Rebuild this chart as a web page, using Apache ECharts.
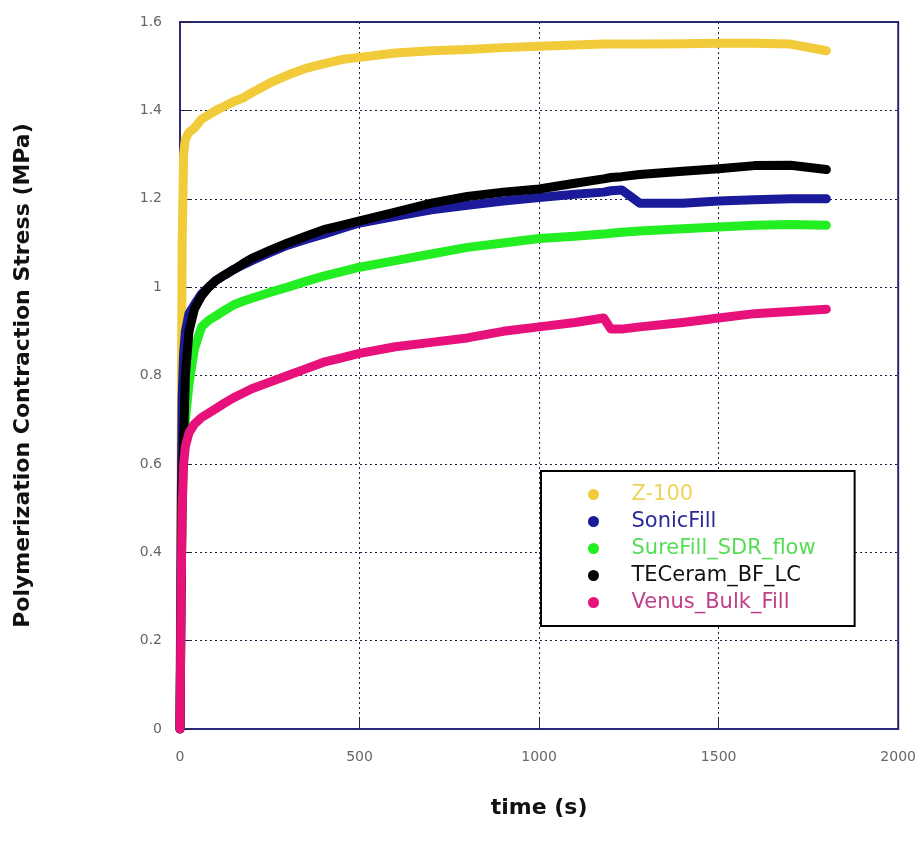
<!DOCTYPE html>
<html>
<head>
<meta charset="utf-8">
<script src="https://cdn.jsdelivr.net/npm/echarts@6/dist/echarts.min.js"></script>
<style>
  html, body { margin: 0; padding: 0; background: #fff; }
  #chart { width: 919px; height: 852px; }
</style>
</head>
<body>
<div id="chart"></div>
<script>
// 数据
const seriesNames = ['Z-100', 'SonicFill', 'SureFill_SDR_flow', 'TECeram_BF_LC', 'Venus_Bulk_Fill'];
const seriesColors = ['#f2cb3a', '#1a1a9a', '#22ee22', '#000000', '#e8107a'];
const legendTextColors = ['#f0d45a', '#2a2a9a', '#55dd55', '#111111', '#c0408a'];

const timeS = [0, 3, 6, 10, 15, 25, 40, 60, 80, 100, 125, 150, 175, 200, 250, 300, 350, 400, 450, 500, 600, 700, 800, 900, 1000, 1100, 1180, 1200, 1230, 1280, 1400, 1500, 1600, 1700, 1800];

const z100 =      [0, 0.6, 1.1, 1.3, 1.335, 1.35, 1.36, 1.38, 1.39, 1.4, 1.41, 1.42, 1.428, 1.44, 1.462, 1.48, 1.495, 1.505, 1.515, 1.52, 1.53, 1.535, 1.538, 1.542, 1.545, 1.548, 1.55, 1.55, 1.55, 1.55, 1.551, 1.552, 1.552, 1.55, 1.535];
const sonicFill = [0, 0.45, 0.75, 0.85, 0.9, 0.94, 0.96, 0.985, 1.0, 1.015, 1.028, 1.04, 1.05, 1.06, 1.078, 1.095, 1.108, 1.12, 1.133, 1.145, 1.16, 1.175, 1.185, 1.195, 1.203, 1.21, 1.215, 1.218, 1.22, 1.19, 1.19, 1.195, 1.198, 1.2, 1.2];
const sureFill =  [0, 0.3, 0.5, 0.62, 0.7, 0.78, 0.86, 0.91, 0.925, 0.935, 0.948, 0.96, 0.968, 0.975, 0.988, 1.0, 1.013, 1.025, 1.035, 1.045, 1.06, 1.075, 1.09, 1.1, 1.11, 1.115, 1.12, 1.122, 1.124, 1.127, 1.132, 1.136, 1.14, 1.142, 1.14];
const teceram =   [0, 0.3, 0.55, 0.65, 0.8, 0.9, 0.95, 0.98, 1.0, 1.015, 1.028, 1.04, 1.053, 1.065, 1.083, 1.1, 1.115, 1.13, 1.14, 1.15, 1.17, 1.19, 1.205, 1.215, 1.222, 1.235, 1.245, 1.248, 1.25, 1.255, 1.262, 1.268, 1.275, 1.276, 1.266];
const venus =     [0, 0.3, 0.5, 0.6, 0.64, 0.67, 0.69, 0.705, 0.715, 0.725, 0.738, 0.75, 0.76, 0.77, 0.785, 0.8, 0.815, 0.83, 0.84, 0.85, 0.865, 0.875, 0.885, 0.9, 0.91, 0.92, 0.93, 0.905, 0.905, 0.91, 0.92, 0.93, 0.94, 0.945, 0.95];

const seriesValues = [z100, sonicFill, sureFill, teceram, venus];

const chart = echarts.init(document.getElementById('chart'));

const fontMain = 'DejaVu Sans, Liberation Sans, Arial, sans-serif';
const gridLine = { show: true, lineStyle: { color: '#222244', type: [2, 3], width: 1 } };
const axisColor = '#2b2b7a';

const option = {
  backgroundColor: '#fff',
  textStyle: { fontFamily: fontMain },
  animation: false,
  grid: {
    left: 180, right: 19, top: 22, bottom: 123,
    show: true, borderColor: axisColor, borderWidth: 2
  },
  legend: {
    left: 541, top: 471,
    orient: 'vertical',
    backgroundColor: '#fff',
    borderColor: '#000', borderWidth: 2, borderRadius: 0,
    padding: [13, 39, 13, 47],
    itemWidth: 66, itemHeight: 11, itemGap: 6,
    icon: 'circle',
    textStyle: { fontSize: 21, fontFamily: fontMain },
    data: seriesNames.map((name, i) => ({ name, textStyle: { color: legendTextColors[i] } }))
  },
  xAxis: {
    type: 'value', min: 0, max: 2000, interval: 500,
    name: 'time (s)', nameLocation: 'middle', nameGap: 68,
    nameTextStyle: { fontSize: 22, fontWeight: 'bold', color: '#111' },
    axisLine: { lineStyle: { color: axisColor, width: 2 } },
    axisTick: { inside: true, length: 12, lineStyle: { color: '#222244', width: 1 } },
    axisLabel: { fontSize: 14, color: '#666', margin: 21, formatter: v => String(v) },
    splitLine: gridLine
  },
  yAxis: {
    type: 'value', min: 0, max: 1.6, interval: 0.2,
    name: 'Polymerization Contraction Stress (MPa)', nameLocation: 'middle', nameGap: 146,
    nameTextStyle: { fontSize: 22, fontWeight: 'bold', color: '#111' },
    axisLine: { lineStyle: { color: axisColor, width: 2 } },
    axisTick: { inside: true, length: 12, lineStyle: { color: '#222244', width: 1 } },
    axisLabel: { fontSize: 14, color: '#666', margin: 18 },
    splitLine: gridLine
  },
  series: seriesNames.map((name, i) => ({
    name,
    type: 'line',
    data: timeS.map((t, k) => [t, seriesValues[i][k]]),
    showSymbol: false,
    color: seriesColors[i],
    lineStyle: { width: 9, color: seriesColors[i], cap: 'round', join: 'round' },
    z: 2 + i
  }))
};

chart.setOption(option);
</script>
</body>
</html>
